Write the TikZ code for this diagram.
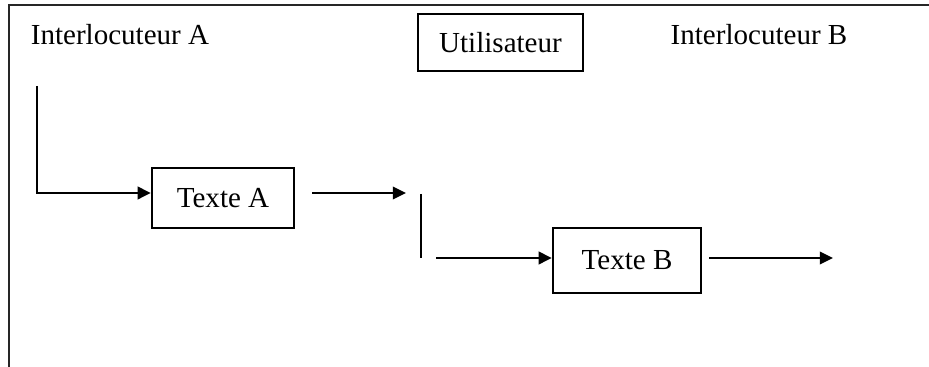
\documentclass[tikz,border=0pt]{standalone}
\usepackage{fontspec}
\setmainfont{Liberation Serif}
\usetikzlibrary{arrows.meta}
\def\u{0.42pt}
\tikzset{
  lbl/.style={font=\fontsize{12.2}{14}\selectfont, inner sep=0pt},
  boxnode/.style={draw, line width=1pt, inner sep=0pt, font=\fontsize{12.2}{14}\selectfont},
  conn/.style={line width=1pt},
  arr/.style={line width=1pt, -{Triangle[length=5.5pt,width=5.2pt]}},
  frame/.style={line width=1pt, draw=black!85}
}
\begin{document}
\begin{tikzpicture}[x=0.42pt, y=-0.42pt]
\useasboundingbox (0,0) rectangle (929,367);
\draw[frame] (929,5) -- (9,5) -- (9,367);
\node[lbl] (ia) at (120,35) {Interlocuteur A};
\node[lbl] (ib) at (759,35) {Interlocuteur B};
\node[boxnode, minimum width=165*\u, minimum height=57*\u] (ut) at (500.5,42.5) {Utilisateur};
\node[boxnode, minimum width=142*\u, minimum height=60*\u] (ta) at (223,198) {Texte A};
\node[boxnode, minimum width=148*\u, minimum height=65*\u] (tb) at (627,260.5) {Texte B};
\coordinate (a1) at (37,86);
\coordinate (arow) at (37,193);
\coordinate (a2) at (312,193);
\coordinate (a3) at (406,193);
\coordinate (v1) at (421,194);
\coordinate (v2) at (421,258);
\coordinate (b0) at (436,258);
\coordinate (b2) at (709,258);
\coordinate (b3) at (833,258);
\draw[arr] (a1) |- (ta.west |- arow);
\draw[arr] (a2) -- (a3);
\draw[conn] (v1) -- (v2);
\draw[arr] (b0) -- (tb.west |- b0);
\draw[arr] (b2) -- (b3);
\end{tikzpicture}
\end{document}
